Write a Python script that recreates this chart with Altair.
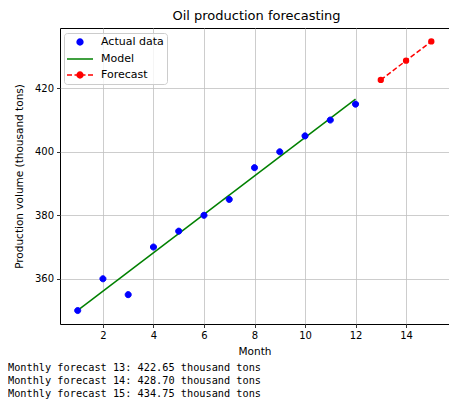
import altair as alt
import pandas as pd

# ---- data ----
months = [1, 2, 3, 4, 5, 6, 7, 8, 9, 10, 11, 12]
actual = [350, 360, 355, 370, 375, 380, 385, 395, 400, 405, 410, 415]
model_months = [1, 12]
model_values = [350.05, 416.6]
forecast_months = [13, 14, 15]
forecast_values = [422.65, 428.70, 434.75]
series_names = ["Actual data", "Model", "Forecast"]
series_colors = ["#0000ff", "#008000", "#ff0000"]
x_ticks = [2, 4, 6, 8, 10, 12, 14]
y_ticks = [360, 380, 400, 420]

df_actual = pd.DataFrame({"month": months, "value": actual, "series": "Actual data"})
df_model = pd.DataFrame({"month": model_months, "value": model_values})
df_fc = pd.DataFrame({"month": forecast_months, "value": forecast_values})
df_text = pd.DataFrame({
    "text": [f"Monthly forecast {m}: {v:.2f} thousand tons" for m, v in zip(forecast_months, forecast_values)],
    "row": list(range(len(forecast_months))),
})

# legend symbol paths (scaled by sqrt(size)/2 = 5 px per unit)
circ = "M0.58,0A0.58,0.58,0,1,1,-0.58,0A0.58,0.58,0,1,1,0.58,0Z"
shape_paths = [
    circ,
    "M-2.6,0H2.6",
    "M-2.6,0H-1.6M-1.1,0H1.1M1.6,0H2.6" + circ,
]

xscale = alt.Scale(domain=[0.3, 15.7], nice=False, zero=False)
yscale = alt.Scale(domain=[345.76, 438.99], nice=False, zero=False)
xaxis = alt.Axis(values=x_ticks, title="Month", format="d")
yaxis = alt.Axis(values=y_ticks, title="Production volume (thousand tons)", format="d")

leg = alt.Legend(title=None, orient="none", legendX=4, legendY=5,
                 symbolSize=100, symbolStrokeWidth=1.5, symbolOffset=7,
                 labelFont="DejaVu Sans", labelFontSize=11, labelColor="black",
                 labelOffset=15, padding=3, rowPadding=5,
                 strokeColor="#cccccc", fillColor="rgba(255,255,255,0.8)", cornerRadius=3)

pts = alt.Chart(df_actual).mark_point(filled=True, size=110, opacity=1, strokeWidth=1).encode(
    x=alt.X("month:Q", scale=xscale, axis=xaxis),
    y=alt.Y("value:Q", scale=yscale, axis=yaxis),
    fill=alt.Fill("series:N", scale=alt.Scale(domain=series_names, range=series_colors), legend=leg),
    stroke=alt.Stroke("series:N", scale=alt.Scale(domain=series_names, range=series_colors), legend=leg),
    shape=alt.Shape("series:N", scale=alt.Scale(domain=series_names, range=shape_paths), legend=leg),
)

model = alt.Chart(df_model).mark_line(color="#008000", strokeWidth=1.5).encode(
    x=alt.X("month:Q", scale=xscale, axis=xaxis),
    y=alt.Y("value:Q", scale=yscale, axis=yaxis),
)

fc_line = alt.Chart(df_fc).mark_line(color="#ff0000", strokeWidth=1.5, strokeDash=[5, 2.5]).encode(
    x=alt.X("month:Q", scale=xscale, axis=xaxis),
    y=alt.Y("value:Q", scale=yscale, axis=yaxis),
)
fc_pts = alt.Chart(df_fc).mark_point(filled=True, size=40, opacity=1, shape="circle", color="#ff0000").encode(
    x=alt.X("month:Q", scale=xscale, axis=xaxis),
    y=alt.Y("value:Q", scale=yscale, axis=yaxis),
)

txt = alt.Chart(df_text).transform_calculate(
    py="340 + 13 * datum.row"
).mark_text(align="left", baseline="middle", font="DejaVu Sans Mono",
            fontSize=10.25, color="black").encode(
    x=alt.value(-52),
    y=alt.Y("py:Q", scale=None, axis=None),
    text="text:N",
)

chart = alt.layer(model, pts, fc_line, fc_pts, txt).properties(
    width=389, height=296,
    padding={"left": 52, "top": 20, "right": 0, "bottom": 76},
    autosize=alt.AutoSizeParams(type="none"),
    title=alt.TitleParams("Oil production forecasting", font="DejaVu Sans", fontSize=13,
                          fontWeight="normal", color="black", anchor="middle", offset=5, dx=2),
).configure_view(stroke="black", strokeWidth=1).configure_axis(
    grid=True, gridColor="#c0c0c0", gridWidth=0.8, domain=False,
    tickColor="black", tickSize=3.5, tickWidth=0.8,
    labelFont="DejaVu Sans", labelFontSize=10, labelColor="black", labelPadding=3,
    titleFont="DejaVu Sans", titleFontSize=10.5, titleFontWeight="normal", titleColor="black",
).configure_axisY(titlePadding=10).configure_axisX(titlePadding=6)

chart.save("out.html", embed_options={"renderer": "svg", "actions": False})
